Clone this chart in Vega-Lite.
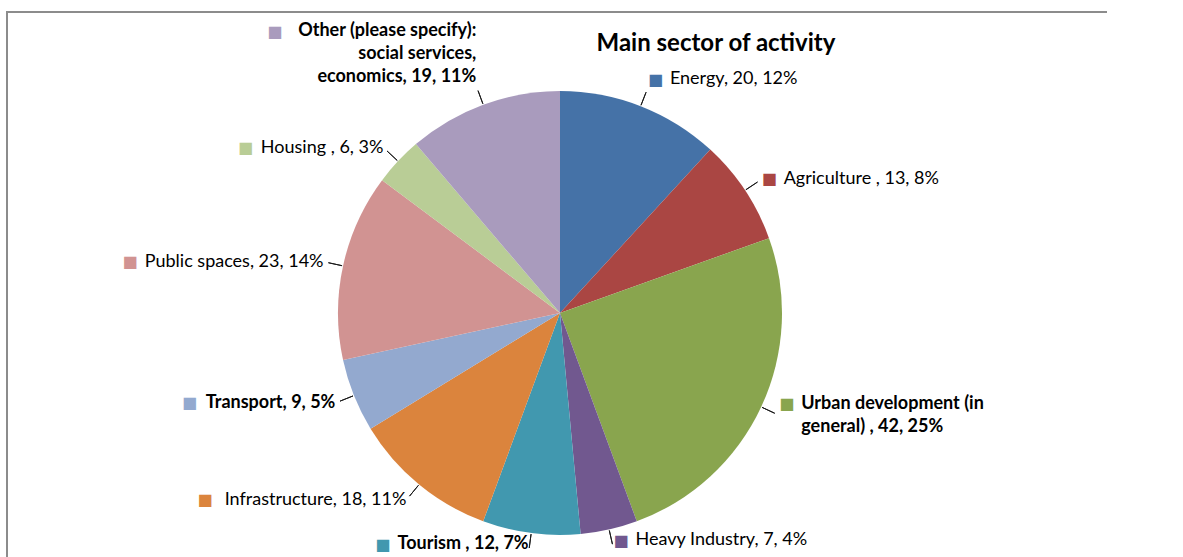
{
  "$schema": "https://vega.github.io/schema/vega-lite/v6.json",
  "width": 1106,
  "height": 602,
  "autosize": "none",
  "padding": {"left": 7, "top": 12, "right": 70, "bottom": -57},
  "background": "white",
  "view": {"stroke": "#8c8c8c", "strokeWidth": 2, "strokeDash": [1100, 1714, 602]},
  "config": {
    "font": "Lato"
  },
  "title": {
    "text": "Main sector of activity",
    "font": "Lato",
    "fontSize": 24,
    "fontWeight": "bold",
    "color": "#000000",
    "anchor": "middle",
    "dx": 156,
    "offset": -63,
    "baseline": "alphabetic"
  },
  "data": {
    "values": [
      {"sector": "Energy", "count": 20, "label": "Energy, 20, 12%"},
      {"sector": "Agriculture", "count": 13, "label": "Agriculture , 13, 8%"},
      {"sector": "Urban development (in general)", "count": 42, "label": "Urban development (in\ngeneral) , 42, 25%"},
      {"sector": "Heavy Industry", "count": 7, "label": "Heavy Industry, 7, 4%"},
      {"sector": "Tourism", "count": 12, "label": "Tourism , 12, 7%"},
      {"sector": "Infrastructure", "count": 18, "label": "Infrastructure, 18, 11%"},
      {"sector": "Transport", "count": 9, "label": "Transport, 9, 5%"},
      {"sector": "Public spaces", "count": 23, "label": "Public spaces, 23, 14%"},
      {"sector": "Housing", "count": 6, "label": "Housing , 6, 3%"},
      {"sector": "Other (please specify): social services, economics", "count": 19, "label": "Other (please specify):\nsocial services,\neconomics, 19, 11%"}
    ]
  },
  "transform": [{"window": [{"op": "row_number", "as": "slice_order"}]}],
  "encoding": {
    "theta": {"field": "count", "type": "quantitative", "stack": true},
    "order": {"field": "slice_order", "type": "quantitative", "sort": "ascending"}
  },
  "layer": [
    {
      "mark": {"type": "arc", "outerRadius": 222},
      "encoding": {
        "color": {
          "field": "sector", "type": "nominal", "legend": null,
          "scale": {
            "domain": ["Energy", "Agriculture", "Urban development (in general)", "Heavy Industry", "Tourism", "Infrastructure", "Transport", "Public spaces", "Housing", "Other (please specify): social services, economics"],
            "range": ["#4572A7", "#AA4643", "#89A54E", "#71588F", "#4198AF", "#DB843D", "#93A9CF", "#D19392", "#B9CD96", "#A99BBD"]
          }
        }
      }
    },
    {
      "mark": {"type": "arc", "innerRadius": 223, "outerRadius": 237, "padAngle": 3.14, "filled": false, "stroke": "#1a1a1a", "strokeWidth": 1},
      "encoding": {}
    },
    {
      "mark": {
        "type": "text", "radius": 242, "font": "DejaVu Sans", "fontSize": 16, "lineBreak": "\n", "lineHeight": 23,
        "align": {"expr": "indexof(['Energy','Agriculture','Urban development (in general)','Heavy Industry'], datum.sector) >= 0 ? 'left' : 'right'"},
        "baseline": {"expr": "indexof(['Energy','Tourism','Heavy Industry'], datum.sector) >= 0 || indexof(datum.sector, 'Other') === 0 ? 'bottom' : 'middle'"},
        "dx": {"expr": "indexof(['Energy','Agriculture','Urban development (in general)','Heavy Industry'], datum.sector) >= 0 ? 0 : -(length(split(datum.label, '\\n')[0]) * 7.95 + 11)"},
        "dy": {"expr": "-(length(split(datum.label, '\\n')) - 1) * 23 * (indexof(['Energy','Tourism','Heavy Industry'], datum.sector) >= 0 || indexof(datum.sector, 'Other') === 0 ? 1 : 0.5)"},
        "text": {"expr": "'■' + replace(datum.label, regexp('[^\\n]', 'g'), '')"}
      },
      "encoding": {
        "color": {
          "field": "sector", "type": "nominal", "legend": null,
          "scale": {
            "domain": ["Energy", "Agriculture", "Urban development (in general)", "Heavy Industry", "Tourism", "Infrastructure", "Transport", "Public spaces", "Housing", "Other (please specify): social services, economics"],
            "range": ["#4572A7", "#AA4643", "#89A54E", "#71588F", "#4198AF", "#DB843D", "#93A9CF", "#D19392", "#B9CD96", "#A99BBD"]
          }
        }
      }
    },
    {
      "mark": {
        "type": "text", "radius": 242, "font": "Lato", "fontSize": 18, "lineBreak": "\n", "lineHeight": 23, "color": "#000000",
        "align": {"expr": "indexof(['Energy','Agriculture','Urban development (in general)','Heavy Industry'], datum.sector) >= 0 ? 'left' : 'right'"},
        "baseline": {"expr": "indexof(['Energy','Tourism','Heavy Industry'], datum.sector) >= 0 || indexof(datum.sector, 'Other') === 0 ? 'bottom' : 'middle'"},
        "fontWeight": {"expr": "indexof(['Transport','Tourism','Urban development (in general)'], datum.sector) >= 0 || indexof(datum.sector, 'Other') === 0 ? 'bold' : 'normal'"},
        "dx": {"expr": "indexof(['Energy','Agriculture','Urban development (in general)','Heavy Industry'], datum.sector) >= 0 ? 22 : 0"},
        "dy": {"expr": "-(length(split(datum.label, '\\n')) - 1) * 23 * (indexof(['Energy','Tourism','Heavy Industry'], datum.sector) >= 0 || indexof(datum.sector, 'Other') === 0 ? 1 : 0.5)"}
      },
      "encoding": {
        "text": {"field": "label", "type": "nominal"}
      }
    }
  ]
}
